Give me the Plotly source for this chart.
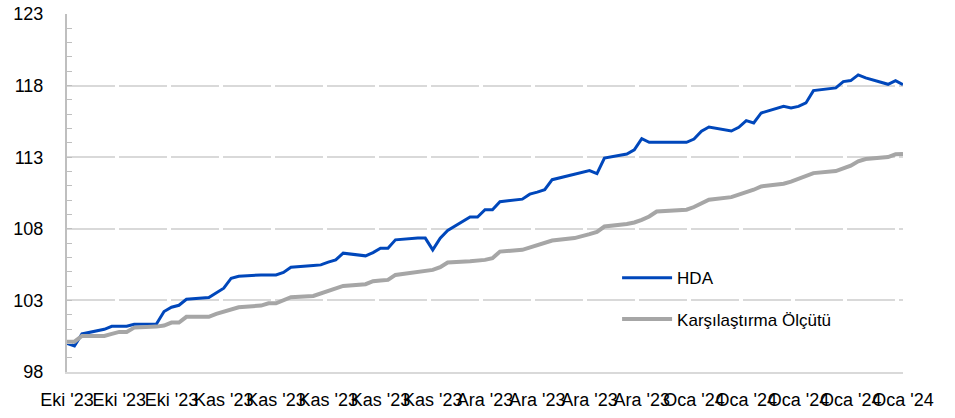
import plotly.graph_objects as go

# business days, 11 Oct 2023 - 31 Jan 2024 (1 Jan holiday)
dates = [
    "2023-10-11", "2023-10-12", "2023-10-13", "2023-10-16", "2023-10-17", "2023-10-18",
    "2023-10-19", "2023-10-20", "2023-10-23", "2023-10-24", "2023-10-25", "2023-10-26",
    "2023-10-27", "2023-10-30", "2023-10-31",
    "2023-11-01", "2023-11-02", "2023-11-03", "2023-11-06", "2023-11-07", "2023-11-08",
    "2023-11-09", "2023-11-10", "2023-11-13", "2023-11-14", "2023-11-15", "2023-11-16",
    "2023-11-17", "2023-11-20", "2023-11-21", "2023-11-22", "2023-11-23", "2023-11-24",
    "2023-11-27", "2023-11-28", "2023-11-29", "2023-11-30",
    "2023-12-01", "2023-12-04", "2023-12-05", "2023-12-06", "2023-12-07", "2023-12-08",
    "2023-12-11", "2023-12-12", "2023-12-13", "2023-12-14", "2023-12-15", "2023-12-18",
    "2023-12-19", "2023-12-20", "2023-12-21", "2023-12-22", "2023-12-25", "2023-12-26",
    "2023-12-27", "2023-12-28", "2023-12-29",
    "2024-01-02", "2024-01-03", "2024-01-04", "2024-01-05", "2024-01-08", "2024-01-09",
    "2024-01-10", "2024-01-11", "2024-01-12", "2024-01-15", "2024-01-16", "2024-01-17",
    "2024-01-18", "2024-01-19", "2024-01-22", "2024-01-23", "2024-01-24", "2024-01-25",
    "2024-01-26", "2024-01-29", "2024-01-30", "2024-01-31",
]

hda = [
    100.00, 99.82, 100.66, 100.98, 101.19, 101.19, 101.19, 101.33, 101.36, 102.22,
    102.52, 102.66, 103.08, 103.20, 103.55,
    103.85, 104.55, 104.69, 104.78, 104.78, 104.78, 104.95, 105.32, 105.44, 105.48,
    105.67, 105.83, 106.30, 106.11, 106.34, 106.65, 106.65, 107.23, 107.35, 107.35,
    106.53, 107.35,
    107.88, 108.82, 108.82, 109.33, 109.33, 109.89, 110.07, 110.42, 110.56, 110.73,
    111.43, 111.80, 111.94, 112.06, 111.85, 112.94, 113.22, 113.52, 114.29, 114.04,
    114.04,
    114.04, 114.27, 114.81, 115.11, 114.83, 115.09, 115.55, 115.39, 116.09, 116.55,
    116.44, 116.55, 116.79, 117.65, 117.84, 118.28, 118.35, 118.75, 118.54, 118.09,
    118.35, 118.07,
]

benchmark = [
    100.12, 100.12, 100.52, 100.52, 100.66, 100.80, 100.80, 101.10, 101.17, 101.24,
    101.45, 101.45, 101.85, 101.85, 102.06,
    102.20, 102.38, 102.52, 102.64, 102.80, 102.80, 103.03, 103.22, 103.31, 103.50,
    103.69, 103.87, 104.01, 104.13, 104.34, 104.39, 104.43, 104.78, 104.97, 105.02,
    105.13, 105.32,
    105.65, 105.74, 105.76, 105.83, 105.95, 106.41, 106.53, 106.69, 106.83, 107.00,
    107.18, 107.35, 107.46, 107.63, 107.79, 108.16, 108.33, 108.44, 108.63, 108.86,
    109.21,
    109.33, 109.52, 109.75, 110.03, 110.21, 110.38, 110.54, 110.73, 110.96, 111.15,
    111.29, 111.47, 111.66, 111.89, 112.03, 112.20, 112.41, 112.71, 112.87, 113.01,
    113.20, 113.22,
]

tick_dates = [
    "2023-10-11", "2023-10-18", "2023-10-25", "2023-11-01", "2023-11-08", "2023-11-15",
    "2023-11-22", "2023-11-29", "2023-12-06", "2023-12-13", "2023-12-20", "2023-12-27",
    "2024-01-03", "2024-01-10", "2024-01-17", "2024-01-24", "2024-01-31",
]
tick_labels = (["Eki '23"] * 3 + ["Kas '23"] * 5 + ["Ara '23"] * 4 + ["Oca '24"] * 5)

fig = go.Figure()
fig.add_trace(go.Scatter(
    x=dates, y=hda, mode="lines", name="HDA", legendgroup="a",
    line=dict(color="#0047BB", width=3),
))
fig.add_trace(go.Scatter(
    x=dates, y=benchmark, mode="lines", name="Karşılaştırma Ölçütü", legendgroup="b",
    line=dict(color="#A6A6A6", width=4),
))

fig.update_layout(
    width=955, height=418,
    margin=dict(l=67, r=52, t=14, b=46),
    plot_bgcolor="white", paper_bgcolor="white",
    font=dict(family="Liberation Sans", size=18, color="#000000"),
    showlegend=True,
    legend=dict(
        x=0.658, y=0.312, xanchor="left", yanchor="top",
        bgcolor="rgba(0,0,0,0)", font=dict(size=17),
        tracegroupgap=16, itemwidth=50,
    ),
)
fig.update_xaxes(
    type="date", range=["2023-10-11", "2024-01-31"], automargin=False,
    tickvals=tick_dates, ticktext=tick_labels, tickangle=0,
    showgrid=False, showline=True, linecolor="#D9D9D9", linewidth=2,
    ticks="", ticklabelstandoff=10,
)
fig.update_yaxes(
    range=[98, 123], tick0=98, dtick=5, automargin=False,
    showgrid=True, gridcolor="#D9D9D9", gridwidth=2, griddash="48px,4px",
    showline=True, linecolor="#BFBFBF", linewidth=2,
    ticks="inside", ticklen=5, tickcolor="#BFBFBF",
    minor=dict(dtick=1, ticks="inside", ticklen=5, tickcolor="#BFBFBF", showgrid=False),
    zeroline=False, ticklabelstandoff=18,
)

# drop the default 8px body margin so the figure sits at the window corner
fig.write_html(
    "out.html",
    config={"displayModeBar": False},
    post_script="document.body.style.margin = '0px';",
)
